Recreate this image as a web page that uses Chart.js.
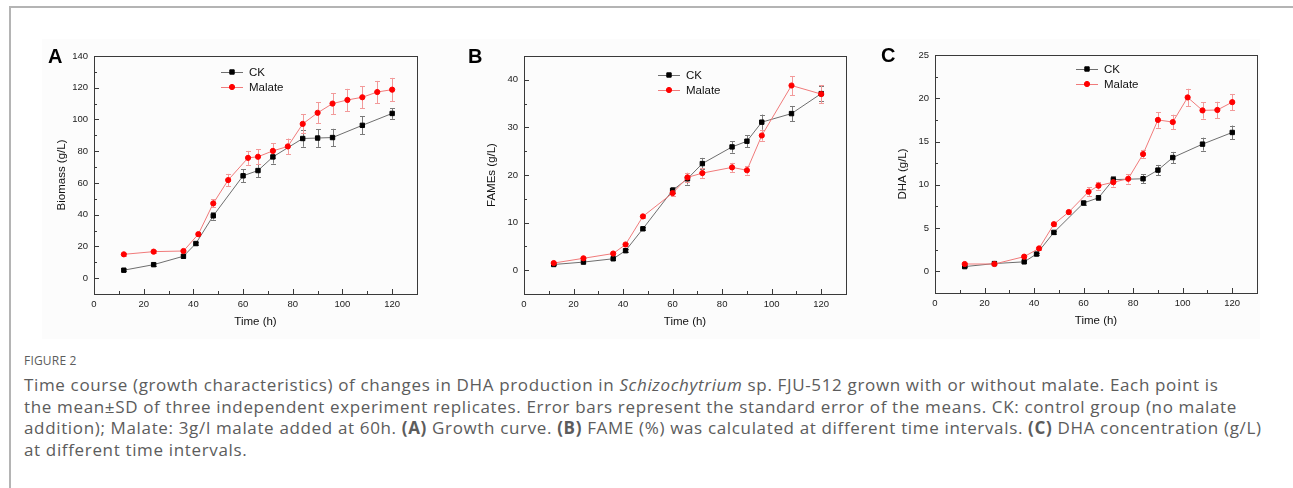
<!DOCTYPE html>
<html>
<head>
<meta charset="utf-8">
<script src="https://cdn.jsdelivr.net/npm/chart.js@4.4.0/dist/chart.umd.min.js"></script>
<style>
  html, body { margin: 0; padding: 0; background: #fff; }
  body { width: 1293px; height: 488px; position: relative; overflow: hidden; }
  #frame { position: absolute; left: 9px; top: 6px; right: -4px; bottom: -4px;
    border-top: 2px solid #b4b4b4; border-left: 2px solid #b4b4b4; }
  #figbg { position: absolute; left: 42px; top: 39px; width: 1218px; height: 300px; background: #fcfcfc; }
  canvas { position: absolute; }
  .letter { position: absolute; font: bold 20px/20px "Liberation Sans", Arial, sans-serif; color: #000; }
  #caption { position: absolute; left: 24px; top: 352px; width: 1265px; color: #5c5c5c;
    font-family: "Open Sans", sans-serif; }
  #caption .fig { font-size: 12px; line-height: 18px; letter-spacing: 0.2px; }
  #caption p { margin: 4px 0 0 0; font-size: 17px; line-height: 21.6px; letter-spacing: 0.65px; white-space: nowrap; }
</style>
</head>
<body>
<div id="frame"></div>
<div id="figbg"></div>
<canvas id="chartA" width="390" height="300"></canvas>
<canvas id="chartB" width="389" height="300"></canvas>
<canvas id="chartC" width="389" height="300"></canvas>
<div class="letter" style="left:48px;top:46px">A</div>
<div class="letter" style="left:468px;top:46px">B</div>
<div class="letter" style="left:881px;top:45px">C</div>
<div id="caption">
  <div class="fig">FIGURE 2</div>
  <p>Time course (growth characteristics) of changes in DHA production in <i>Schizochytrium</i> sp. FJU-512 grown with or without malate. Each point is<br>the mean&plusmn;SD of three independent experiment replicates. Error bars represent the standard error of the means. CK: control group (no malate<br>addition); Malate: 3g/l malate added at 60h. <b>(A)</b> Growth curve. <b>(B)</b> FAME (%) was calculated at different time intervals. <b>(C)</b> DHA concentration (g/L)<br>at different time intervals.</p>
</div>
<script>
// tick labels
var xTicks = [0, 20, 40, 60, 80, 100, 120];
var yTicksA = [0, 20, 40, 60, 80, 100, 120, 140];
var yTicksB = [0, 10, 20, 30, 40];
var yTicksC = [0, 5, 10, 15, 20, 25];
var seriesNames = ["CK", "Malate"];

// sampling times (h)
var timeCK = [12, 24, 36, 41, 48, 60, 66, 72, 84, 90, 96, 108, 120];
var timeMalateA = [12, 24, 36, 42, 48, 54, 62, 66, 72, 78, 84, 90, 96, 102, 108, 114, 120];
var timeMalateB = [12, 24, 36, 41, 48, 60, 66, 72, 84, 90, 96, 108, 120];
var timeMalateC = [12, 24, 36, 42, 48, 54, 62, 66, 72, 78, 84, 90, 96, 102, 108, 114, 120];

// (A) biomass g/L
var biomassCK = [5, 8.5, 13.8, 21.8, 39.3, 64.5, 67.8, 76.4, 88, 88.3, 88.6, 96.3, 103.8];
var biomassCKErr = [0.6, 0.8, 1, 1.2, 2.4, 4, 4.2, 4.2, 5.2, 5.6, 5.5, 5.6, 3.4];
var biomassMalate = [15, 16.7, 17.1, 27.7, 47.1, 61.8, 75.8, 76.5, 80.2, 83, 97.2, 104.2, 110, 112.3, 114, 117.3, 118.8];
var biomassMalateErr = [0.8, 0.8, 0.9, 1.2, 2.5, 3.9, 4.4, 4.8, 4.8, 5, 6, 6.5, 6.6, 7, 6.8, 7, 7.4];

// (B) FAMEs g/L
var famesCK = [1.2, 1.7, 2.4, 4.1, 8.7, 16.8, 19.2, 22.4, 25.9, 27.1, 31.1, 32.9, 37.1];
var famesCKErr = [0.2, 0.2, 0.25, 0.3, 0.35, 0.6, 1.2, 1.2, 1.2, 1.3, 1.6, 1.6, 1.5];
var famesMalate = [1.5, 2.5, 3.5, 5.4, 11.3, 16.2, 19.5, 20.4, 21.6, 21.0, 28.3, 38.8, 37.0];
var famesMalateErr = [0.2, 0.2, 0.25, 0.3, 0.35, 0.6, 1.0, 1.0, 0.95, 0.9, 1.1, 2.0, 1.9];

// (C) DHA g/L
var dhaCK = [0.55, 0.9, 1.1, 2.0, 4.5, 7.9, 8.5, 10.6, 10.7, 11.7, 13.15, 14.7, 16.05];
var dhaCKErr = [0.1, 0.1, 0.15, 0.15, 0.2, 0.25, 0.3, 0.4, 0.5, 0.6, 0.65, 0.75, 0.8];
var dhaMalate = [0.85, 0.85, 1.7, 2.65, 5.45, 6.85, 9.2, 9.9, 10.3, 10.7, 13.55, 17.5, 17.25, 20.1, 18.6, 18.65, 19.55];
var dhaMalateErr = [0.1, 0.1, 0.15, 0.15, 0.2, 0.2, 0.5, 0.45, 0.5, 0.55, 0.5, 0.9, 0.85, 1.0, 0.95, 0.95, 0.95];

var FONT = '"Liberation Sans", Arial, sans-serif';

function puntos(xs, ys) {
  return xs.map(function (x, i) { return { x: x, y: ys[i] }; });
}

// error bars, drawn under the lines
var errorBars = {
  id: "errorBars",
  beforeDatasetsDraw: function (chart) {
    var ctx = chart.ctx;
    var y = chart.scales.y;
    chart.data.datasets.forEach(function (ds, i) {
      var meta = chart.getDatasetMeta(i);
      ctx.save();
      ctx.strokeStyle = ds.errColor;
      ctx.lineWidth = 1;
      meta.data.forEach(function (pt, j) {
        var v = ds.data[j].y, e = ds.errors[j];
        var y1 = y.getPixelForValue(v + e), y2 = y.getPixelForValue(v - e);
        var px = Math.round(pt.x) + 0.5;
        ctx.beginPath();
        ctx.moveTo(px, y1); ctx.lineTo(px, y2);
        ctx.moveTo(px - 2.5, Math.round(y1) + 0.5); ctx.lineTo(px + 2.5, Math.round(y1) + 0.5);
        ctx.moveTo(px - 2.5, Math.round(y2) + 0.5); ctx.lineTo(px + 2.5, Math.round(y2) + 0.5);
        ctx.stroke();
      });
      ctx.restore();
    });
  }
};

// box round the plot and inward ticks
var cajaTicks = {
  id: "cajaTicks",
  afterDraw: function (chart) {
    var ctx = chart.ctx, a = chart.chartArea;
    var sx = chart.scales.x, sy = chart.scales.y;
    ctx.save();
    ctx.strokeStyle = "#3a3a3a";
    ctx.lineWidth = 1;
    ctx.strokeRect(Math.round(a.left) + 0.5, Math.round(a.top) + 0.5,
      Math.round(a.right - a.left), Math.round(a.bottom - a.top));
    ctx.beginPath();
    var xt = sx.ticks.map(function (t) { return t.value; });
    xt.forEach(function (v, i) {
      var px = Math.round(sx.getPixelForValue(v)) + 0.5;
      ctx.moveTo(px, a.bottom); ctx.lineTo(px, a.bottom - 5);
      if (i < xt.length - 1) {
        var m = Math.round(sx.getPixelForValue((v + xt[i + 1]) / 2)) + 0.5;
        ctx.moveTo(m, a.bottom); ctx.lineTo(m, a.bottom - 3);
      }
    });
    var yt = sy.ticks.map(function (t) { return t.value; });
    var paso = yt[1] - yt[0];
    yt.forEach(function (v) {
      var py = Math.round(sy.getPixelForValue(v)) + 0.5;
      ctx.moveTo(a.left, py); ctx.lineTo(a.left + 5, py);
      var m = v - paso / 2;
      if (m > sy.min) {
        var pm = Math.round(sy.getPixelForValue(m)) + 0.5;
        ctx.moveTo(a.left, pm); ctx.lineTo(a.left + 3, pm);
      }
    });
    ctx.stroke();
    ctx.restore();
  }
};

// legend inside the plot
var leyenda = {
  id: "leyenda",
  afterDraw: function (chart, args, opts) {
    var ctx = chart.ctx, a = chart.chartArea;
    ctx.save();
    ctx.font = "11.5px " + FONT;
    ctx.textBaseline = "middle";
    chart.data.datasets.forEach(function (ds, i) {
      var cx = a.left + opts.dx, cy = a.top + opts.dy + i * 15;
      ctx.strokeStyle = ds.borderColor;
      ctx.lineWidth = 1;
      ctx.beginPath();
      ctx.moveTo(cx - 11, cy + 0.5); ctx.lineTo(cx + 11, cy + 0.5);
      ctx.stroke();
      ctx.fillStyle = ds.pointBackgroundColor;
      ctx.strokeStyle = ds.pointBorderColor;
      Chart.helpers.drawPoint(ctx, {
        pointStyle: ds.pointStyle, radius: ds.pointRadius, borderWidth: 1
      }, cx, cy);
      ctx.fillStyle = "#111";
      ctx.fillText(seriesNames[i], cx + 17, cy + 0.5);
    });
    ctx.restore();
  }
};

function serieCK(data, errs) {
  return {
    label: seriesNames[0], data: data, errors: errs, order: 2,
    borderColor: "#6e6e6e", borderWidth: 1, errColor: "#7a7a7a",
    pointStyle: "rect", pointRadius: 3.1, pointBorderWidth: 1,
    pointBackgroundColor: "#000", pointBorderColor: "#000"
  };
}
function serieMalate(data, errs) {
  return {
    label: seriesNames[1], data: data, errors: errs, order: 1,
    borderColor: "#f07a7a", borderWidth: 1, errColor: "#f29a9a",
    pointStyle: "circle", pointRadius: 2.6, pointBorderWidth: 1,
    pointBackgroundColor: "#ff0000", pointBorderColor: "#ff0000"
  };
}

function crearGrafico(id, left, top, datasets, yTicks, yMin, yMax, yTitle, leg) {
  var canvas = document.getElementById(id);
  canvas.style.left = left + "px";
  canvas.style.top = top + "px";
  return new Chart(canvas.getContext("2d"), {
    type: "line",
    data: { datasets: datasets },
    options: {
      responsive: false,
      animation: false,
      events: [],
      layout: { padding: { left: 15, top: 18, right: 13, bottom: 9 } },
      plugins: { legend: { display: false }, tooltip: { enabled: false }, leyenda: leg },
      scales: {
        x: {
          type: "linear", min: 0, max: 130,
          afterBuildTicks: function (s) { s.ticks = xTicks.map(function (v) { return { value: v }; }); },
          afterFit: function (s) { s.height = 35; },
          grid: { display: false, drawTicks: false },
          border: { display: false },
          ticks: { padding: 5, color: "#222", font: { family: FONT, size: 9.5 }, maxRotation: 0, autoSkip: false },
          title: { display: true, text: "Time (h)", color: "#111", padding: 0, font: { family: FONT, size: 11.5 } }
        },
        y: {
          type: "linear", min: yMin, max: yMax,
          afterBuildTicks: function (s) { s.ticks = yTicks.map(function (v) { return { value: v }; }); },
          afterFit: function (s) { s.width = 39; },
          grid: { display: false, drawTicks: false },
          border: { display: false },
          ticks: { padding: 6, color: "#222", font: { family: FONT, size: 9.5 }, autoSkip: false },
          title: { display: true, text: yTitle, color: "#111", padding: 0, font: { family: FONT, size: 11.5 } }
        }
      }
    },
    plugins: [errorBars, cajaTicks, leyenda]
  });
}

crearGrafico("chartA", 40, 38,
  [serieCK(puntos(timeCK, biomassCK), biomassCKErr),
   serieMalate(puntos(timeMalateA, biomassMalate), biomassMalateErr)],
  yTicksA, -10, 140, "Biomass (g/L)", { dx: 138, dy: 16 });

crearGrafico("chartB", 470, 38,
  [serieCK(puntos(timeCK, famesCK), famesCKErr),
   serieMalate(puntos(timeMalateB, famesMalate), famesMalateErr)],
  yTicksB, -5, 45, "FAMEs (g/L)", { dx: 145, dy: 19 });

crearGrafico("chartC", 881, 37,
  [serieCK(puntos(timeCK, dhaCK), dhaCKErr),
   serieMalate(puntos(timeMalateC, dhaMalate), dhaMalateErr)],
  yTicksC, -2.5, 25, "DHA (g/L)", { dx: 152, dy: 14 });
</script>
</body>
</html>
